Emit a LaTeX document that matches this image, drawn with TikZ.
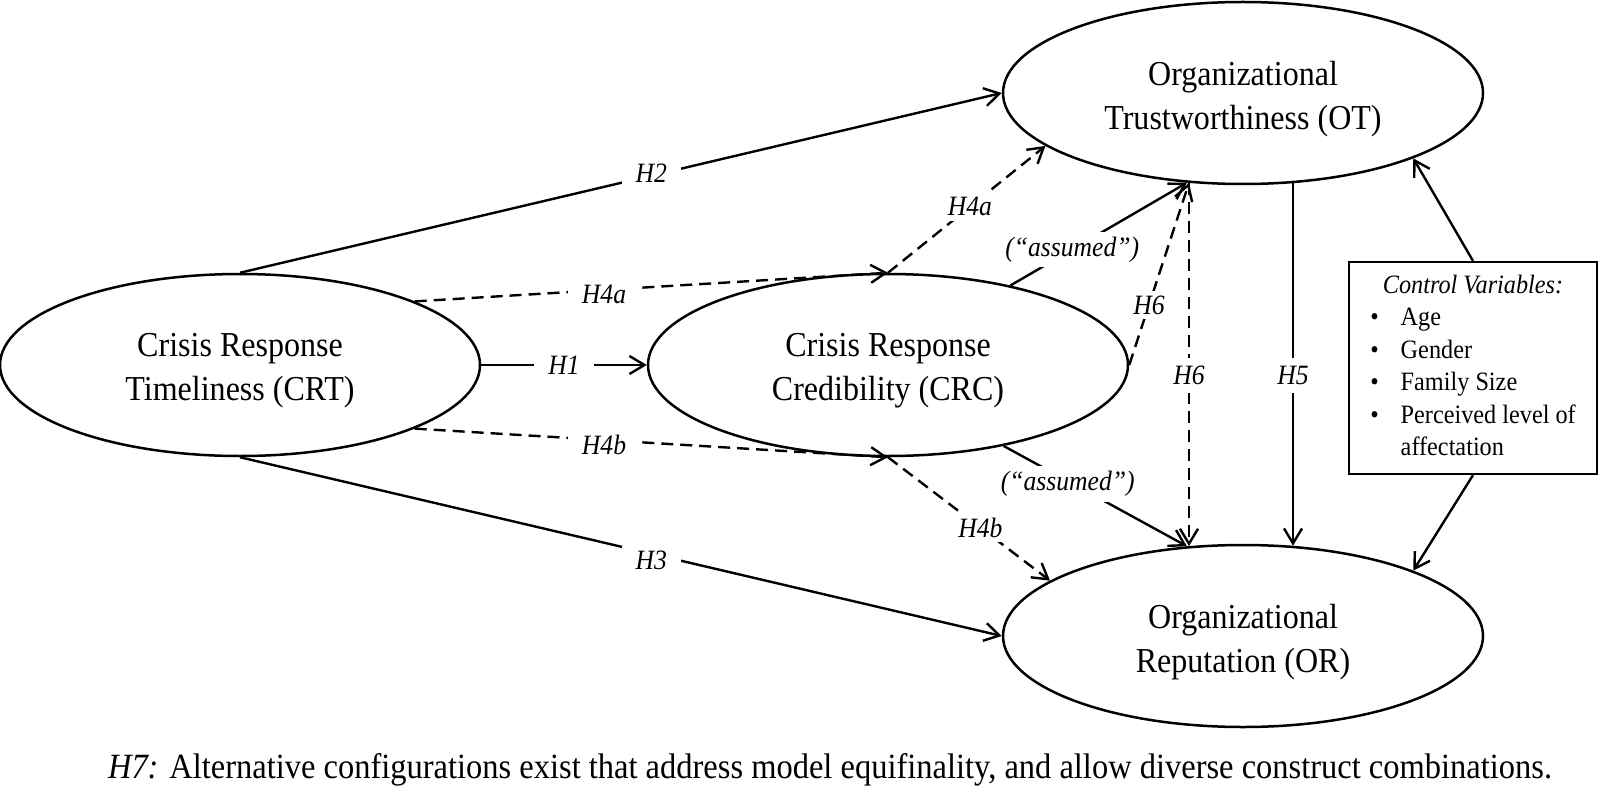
\documentclass[tikz,border=0pt]{standalone}
\usepackage{fontspec}
\setmainfont[FakeStretch=0.915]{Liberation Serif}
\usetikzlibrary{arrows.meta,shapes.geometric}
\begin{document}
\begin{tikzpicture}[x=1pt,y=-1pt,
  construct/.style={draw, ellipse, line width=2.5pt, minimum width=480pt, minimum height=182pt,
    inner sep=0pt},
  ctext/.style={align=center, font=\fontsize{35}{44}\selectfont, yshift=-6pt},
  arr/.style={line width=2.4pt, -{Straight Barb[length=15pt,width=18pt]}},
  dsh/.style={arr, dash pattern=on 12pt off 7pt},
  hlab/.style={fill=white, inner xsep=14pt, inner ysep=5pt, font=\fontsize{28}{32}\selectfont\itshape},
  ctrlbox/.style={draw, line width=2.2pt, minimum width=248pt, minimum height=212pt, inner sep=0pt,
    font=\fontsize{26.5}{32.5}\selectfont}
]
\useasboundingbox (0,0) rectangle (1600,786);

\node[construct, label={[ctext]center:Crisis Response\\Timeliness (CRT)}] (CRT) at (240,365) {};
\node[construct, label={[ctext]center:Crisis Response\\Credibility (CRC)}] (CRC) at (888,365) {};
\node[construct, label={[ctext]center:Organizational\\Trustworthiness (OT)}] (OT) at (1243,93) {};
\node[construct, label={[ctext]center:Organizational\\Reputation (OR)}] (OR) at (1243,636) {};

\node[ctrlbox] (CV) at (1473,368) {%
  \begin{tabular}{@{}l@{\hspace{22pt}}l@{}}
  \multicolumn{2}{c}{\itshape Control Variables:}\\
  \textbullet & Age\\
  \textbullet & Gender\\
  \textbullet & Family Size\\
  \textbullet & Perceived level of\\
   & affectation
  \end{tabular}};

\draw[arr] (CRT.north) -- node[hlab, pos=0.54, yshift=2pt] {H2} (OT.west);
\draw[arr] (CRT.south) -- node[hlab, pos=0.54, yshift=-7pt] {H3} (OR.west);
\draw[arr] (CRT.east) -- node[hlab, pos=0.5] {H1} (CRC.west);
\draw[dsh] (CRT.20.6) -- node[hlab, pos=0.40, yshift=-4pt] {H4a} (CRC.north);
\draw[dsh] (CRT.-20.6) -- node[hlab, pos=0.40, yshift=-5pt] {H4b} (CRC.south);
\draw[dsh] (CRC.north) -- node[hlab, inner xsep=4pt, pos=0.52] {H4a} (OT.195.9);
\draw[dsh] (CRC.south) -- node[hlab, inner xsep=4pt, pos=0.57] {H4b} (OR.164.7);
\draw[arr] (CRC.33.6) -- node[hlab, inner xsep=3pt, pos=0.35] {(“assumed”)} (OT.238);
\draw[arr] (CRC.-35.4) -- node[hlab, inner xsep=3pt, pos=0.35, yshift=-3pt] {(“assumed”)} (OR.122);
\draw[dsh] (CRC.east) -- node[hlab, inner xsep=4pt, pos=0.33] {H6} (OT.239);
\draw[dsh] (OT.239) -- node[hlab, inner ysep=8pt, pos=0.53] {H6} (OR.121);
\draw[arr] (OT.-61.2) -- node[hlab, inner ysep=8pt, pos=0.53] {H5} (OR.61.2);
\draw[arr] (CV.north) -- (OT.-21.3);
\draw[arr] (CV.south) -- (OR.21.3);

\node (cap) at (830,770) {\fontsize{35.5}{40}\selectfont\textit{H7:} Alternative configurations exist that address model equifinality, and allow diverse construct combinations.};
\end{tikzpicture}
\end{document}
